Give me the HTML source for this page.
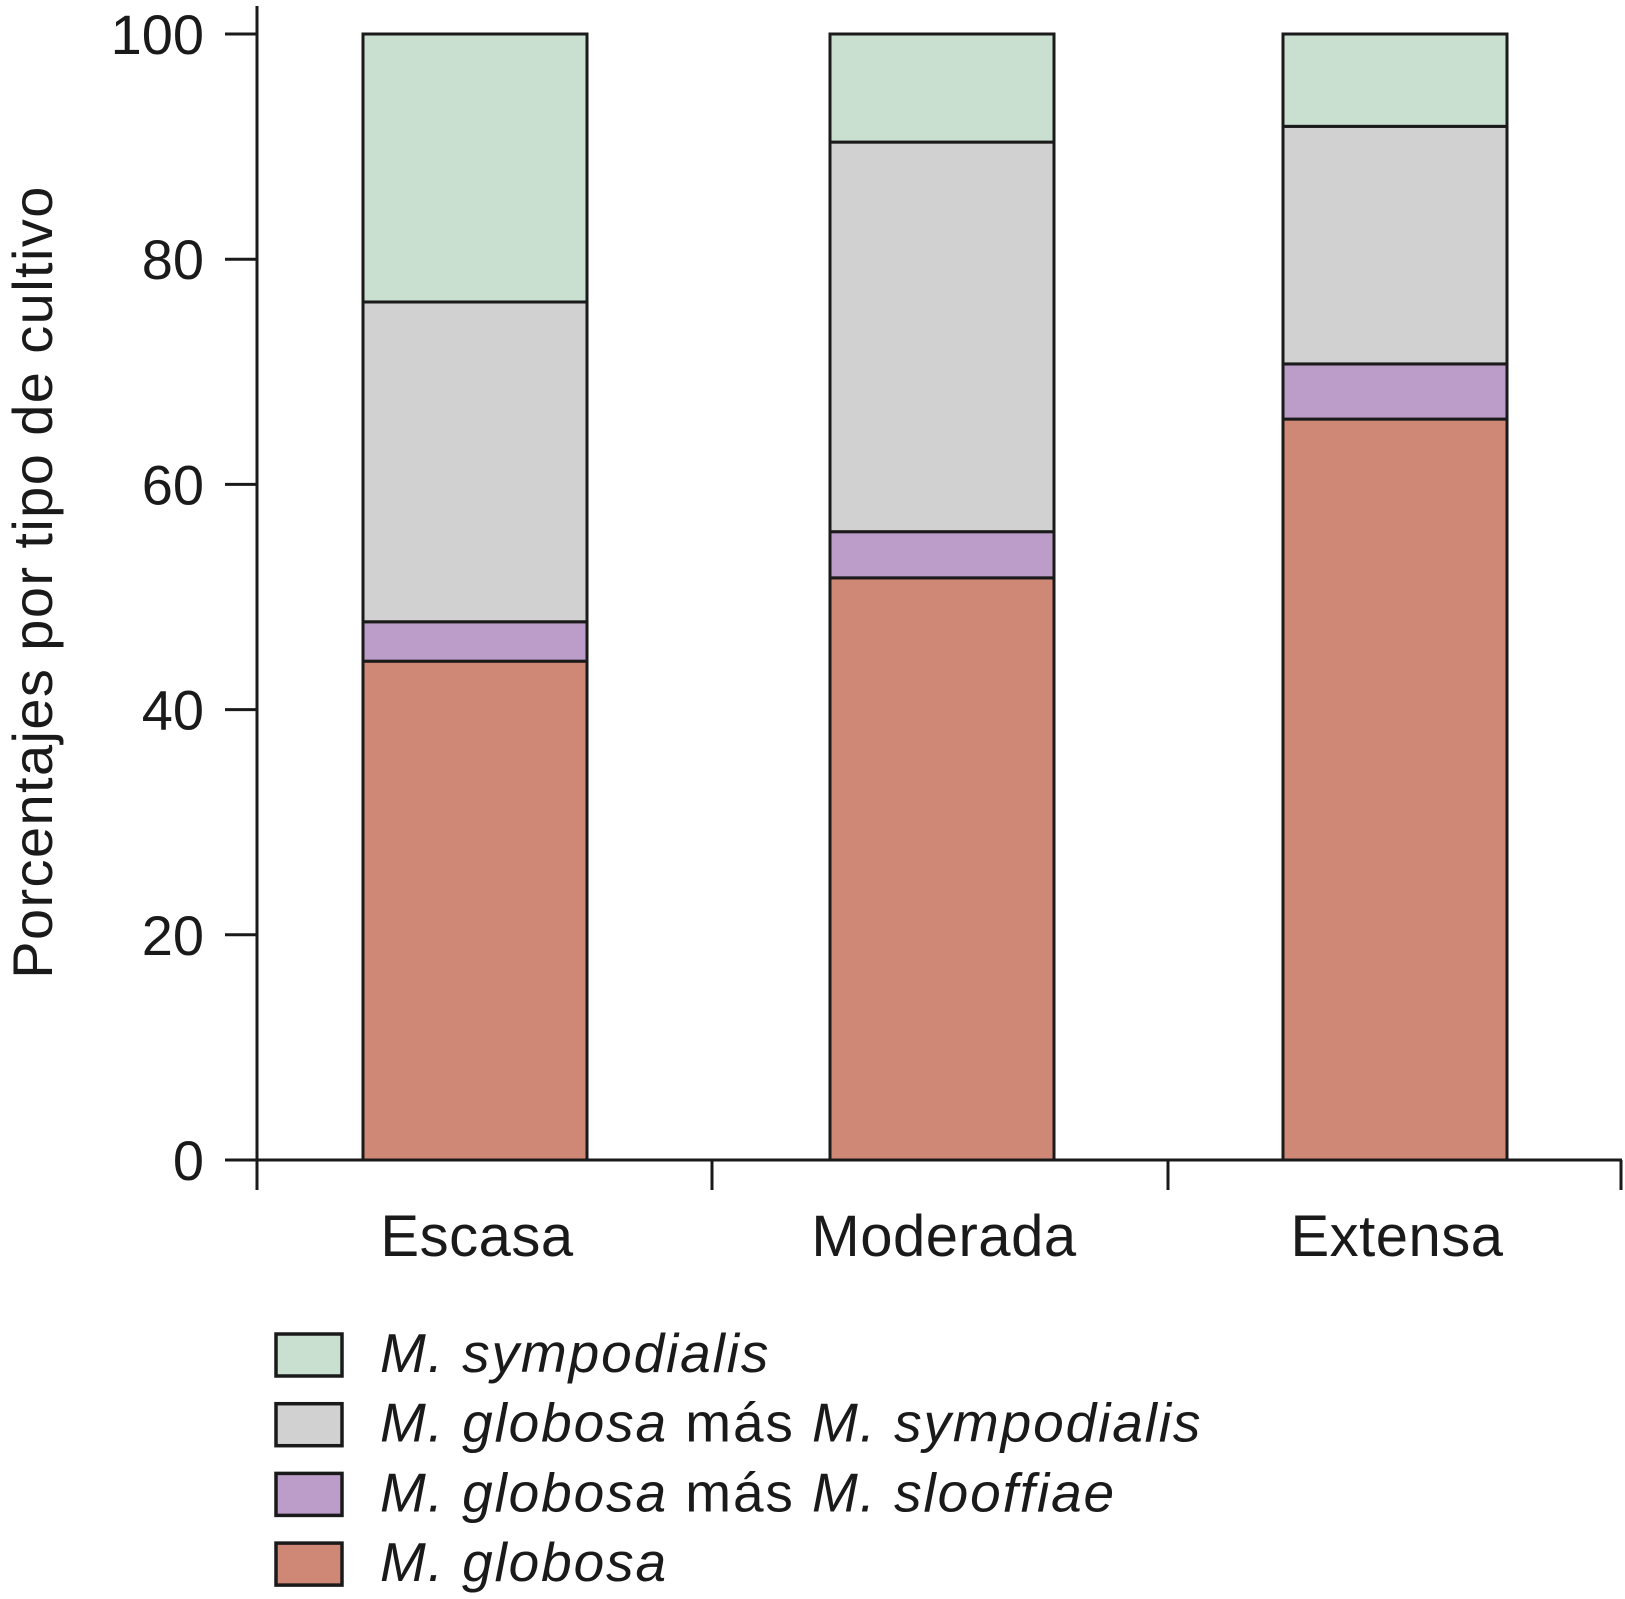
<!DOCTYPE html>
<html><head><meta charset="utf-8"><style>
html,body{margin:0;padding:0;background:#fff;}
svg{display:block;font-family:"Liberation Sans",sans-serif;}
</style></head><body>
<svg id="chart" width="1625" height="1599" viewBox="0 0 1625 1599" xmlns="http://www.w3.org/2000/svg"></svg>
<script>
const categories = ["Escasa","Moderada","Extensa"];
const globosa = [44.3, 51.7, 65.8];
const globosaSlooffiae = [3.5, 4.1, 4.9];
const globosaSympodialis = [28.4, 34.6, 21.1];
const sympodialis = [23.8, 9.6, 8.2];
const yTicks = [0,20,40,60,80,100];
const seriesNames = ["M. globosa","M. globosa más M. slooffiae","M. globosa más M. sympodialis","M. sympodialis"];

const NS="http://www.w3.org/2000/svg";
const svg=document.getElementById('chart');
const y0=1160, y100=34;
function yScale(v){return y0-(y0-y100)*v/100;}
const barLeft=[363,830,1283], barW=224;
const colors=["#d08876","#bc9cc8","#d1d1d1","#c9e0d0"];
const series=[globosa,globosaSlooffiae,globosaSympodialis,sympodialis];
const seriesKeys=["globosa","globosa-slooffiae","globosa-sympodialis","sympodialis"];
function mk(tag,attrs){const e=document.createElementNS(NS,tag);for(const k in attrs)e.setAttribute(k,attrs[k]);svg.appendChild(e);return e;}

categories.forEach((c,i)=>{
  let cum=0;
  series.forEach((s,j)=>{
    const v=s[i];
    const r=mk('rect',{x:barLeft[i],y:yScale(cum+v),width:barW,height:yScale(cum)-yScale(cum+v),fill:colors[j],stroke:'#1a1a1a','stroke-width':3});
    
    
    cum+=v;
  });
  const t=mk('text',{x:barLeft[i]+barW/2+2,y:1256,'font-size':58,'letter-spacing':0.5,'text-anchor':'middle',fill:'#1a1a1a'});
  t.textContent=c;
  
  
});

const ya=mk('line',{x1:257,y1:6,x2:257,y2:1190,stroke:'#1a1a1a','stroke-width':3});


const xa=mk('line',{x1:225,y1:y0,x2:1622,y2:y0,stroke:'#1a1a1a','stroke-width':3});


[712,1168,1621].forEach(x=>{
  const l=mk('line',{x1:x,y1:y0,x2:x,y2:1190,stroke:'#1a1a1a','stroke-width':3});
  
  
});
yTicks.forEach(v=>{
  const l=mk('line',{x1:225,y1:yScale(v),x2:257,y2:yScale(v),stroke:'#1a1a1a','stroke-width':3});
  
  
  const t=mk('text',{x:204,y:yScale(v)+20,'font-size':56,'text-anchor':'end',fill:'#1a1a1a'});
  t.textContent=v;
  
  
});
const yt=mk('text',{x:0,y:0,'font-size':56,'letter-spacing':1.4,'text-anchor':'middle',fill:'#1a1a1a',transform:'translate(52,582) rotate(-90)'});
yt.textContent='Porcentajes por tipo de cultivo';



const legendHTML=[
 '<tspan font-style="italic">M. sympodialis</tspan>',
 '<tspan font-style="italic">M. globosa</tspan> más <tspan font-style="italic">M. sympodialis</tspan>',
 '<tspan font-style="italic">M. globosa</tspan> más <tspan font-style="italic">M. slooffiae</tspan>',
 '<tspan font-style="italic">M. globosa</tspan>'
];
const legendColors=[colors[3],colors[2],colors[1],colors[0]];
legendHTML.forEach((h,i)=>{
  const top=1334+i*69.7;
  const r=mk('rect',{x:276,y:top,width:66,height:42,fill:legendColors[i],stroke:'#1a1a1a','stroke-width':3.5});
  
  
  const t=mk('text',{x:380,y:top+38,'font-size':55,'letter-spacing':1.9,fill:'#1a1a1a'});
  t.innerHTML=h;
  
  
});
</script>
</body></html>
